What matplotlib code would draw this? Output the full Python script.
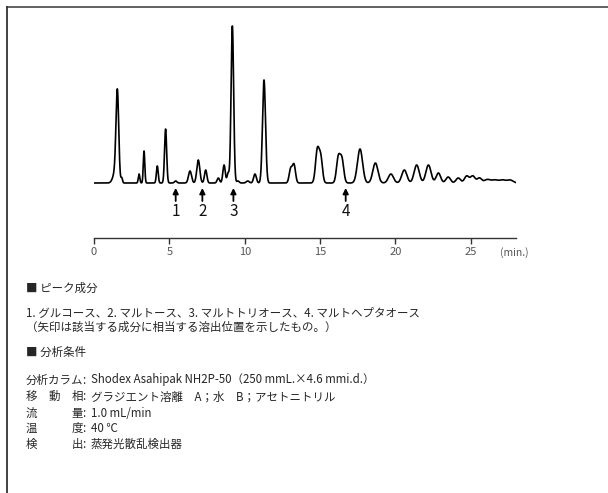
import numpy as np
import matplotlib
matplotlib.use("Agg")
import matplotlib.pyplot as plt
from matplotlib.lines import Line2D

plt.rcParams['font.family'] = ['Noto Sans CJK JP', 'DejaVu Sans']

# === Peak table (retention time [min], height, width sigma [min]) ===
peak_rt = [1.40, 1.55, 1.84, 2.99, 3.32, 4.20, 4.75, 5.42, 6.37, 6.92,
           7.41, 8.25, 8.63, 8.90, 9.18, 9.55, 10.20, 10.68, 11.28, 13.05,
           13.27, 14.82, 15.05, 16.21, 16.45, 17.65, 18.67, 19.70, 20.59, 21.41,
           22.19, 22.85, 23.50, 24.17, 24.73, 25.13, 25.57, 26.10, 26.60, 27.10,
           27.60]
peak_height = [10, 88, 5, 9, 32, 17, 54, 2, 12, 23,
               13, 5, 18, 10, 157, 2, 2, 9, 103, 14,
               18, 33, 24, 25, 23, 34, 20, 9, 13, 18,
               18, 10, 6, 5, 7, 7, 5, 3.5, 3, 3,
               3]
peak_sigma = [0.15, 0.09, 0.05, 0.05, 0.05, 0.06, 0.07, 0.08, 0.10, 0.10,
              0.08, 0.08, 0.08, 0.07, 0.085, 0.08, 0.10, 0.09, 0.10, 0.10,
              0.10, 0.12, 0.11, 0.12, 0.12, 0.17, 0.17, 0.17, 0.17, 0.17,
              0.17, 0.15, 0.15, 0.15, 0.15, 0.15, 0.15, 0.20, 0.20, 0.20,
              0.20]

# marked components
marker_rt = [5.42, 7.19, 9.25, 16.70]
marker_labels = ['1', '2', '3', '4']

x_ticks = [0, 5, 10, 15, 20, 25]

peak_title = '■ ピーク成分'
peak_lines = ['1. グルコース、2. マルトース、3. マルトトリオース、4. マルトヘプタオース',
              '（矢印は該当する成分に相当する溶出位置を示したもの。）']
cond_title = '■ 分析条件'
cond_keys = ['分析カラム', '移　動　相', '流　　　量', '温　　　度', '検　　　出']
cond_values = ['Shodex Asahipak NH2P-50（250 mmL.×4.6 mmi.d.）',
               'グラジエント溶離　A；水　B；アセトニトリル',
               '1.0 mL/min',
               '40 ℃',
               '蒸発光散乱検出器']

W, H = 608, 493


def fx(px):
    return px / W


def fy(py):
    return 1 - py / H


# === Build signal from peak table ===
t = np.linspace(0, 28, 4000)
signal = np.zeros_like(t)
for rt, h, s in zip(peak_rt, peak_height, peak_sigma):
    signal += h * np.exp(-0.5 * ((t - rt) / s) ** 2)

fig = plt.figure(figsize=(W / 100, H / 100), dpi=100)

# outer frame (top and left edges)
fig.add_artist(Line2D([fx(6.5), 1], [fy(6.5), fy(6.5)], color='#555555', lw=1.3))
fig.add_artist(Line2D([fx(6.5), fx(6.5)], [fy(6.5), 0], color='#333333', lw=1.3))

# === Chromatogram axes ===
ax = fig.add_axes([fx(94), fy(238), fx(516) - fx(94), fy(20) - fy(238)])
ax.plot(t, signal, color='black', lw=1.2)
ax.set_xlim(0, 28)
ax.set_ylim(-55, 163)
for side in ['left', 'right', 'top']:
    ax.spines[side].set_visible(False)
ax.spines['bottom'].set_color('#333333')
ax.spines['bottom'].set_linewidth(1.0)
ax.set_yticks([])
ax.set_xticks(x_ticks)
ax.tick_params(axis='x', direction='out', length=4, width=1.0, color='#333333',
               labelsize=8, labelcolor='#555555', pad=2.5)
ax.patch.set_visible(False)

for rt, lab in zip(marker_rt, marker_labels):
    ax.annotate('', xy=(rt, -5), xytext=(rt, -18),
                arrowprops=dict(arrowstyle='-|>', color='black', lw=1.3,
                                mutation_scale=8, shrinkA=0, shrinkB=0))
    ax.text(rt, -29, lab, ha='center', va='center', fontsize=11, color='#111111')

fig.text(fx(514), fy(253), '(min.)', ha='center', va='center', fontsize=7.5, color='#555555')

# === Description text ===
fs = 8.25
txt = dict(fontsize=fs, color='#262626', va='center', ha='left')
fig.text(fx(26.5), fy(288.7), peak_title, **txt)
fig.text(fx(26.5), fy(313.3), peak_lines[0], **txt)
fig.text(fx(26), fy(327.3), peak_lines[1], **txt)
fig.text(fx(26.5), fy(352.7), cond_title, **txt)

row_y = [380, 396.7, 413.3, 428.7, 444.3]
for key, val, y in zip(cond_keys, cond_values, row_y):
    fig.text(fx(26), fy(y), key, **txt)
    fig.text(fx(84), fy(y), ':', fontsize=fs, color='#262626', va='center', ha='center')
    fig.text(fx(91), fy(y), val, **txt)

fig.savefig('out.png', dpi=100)
